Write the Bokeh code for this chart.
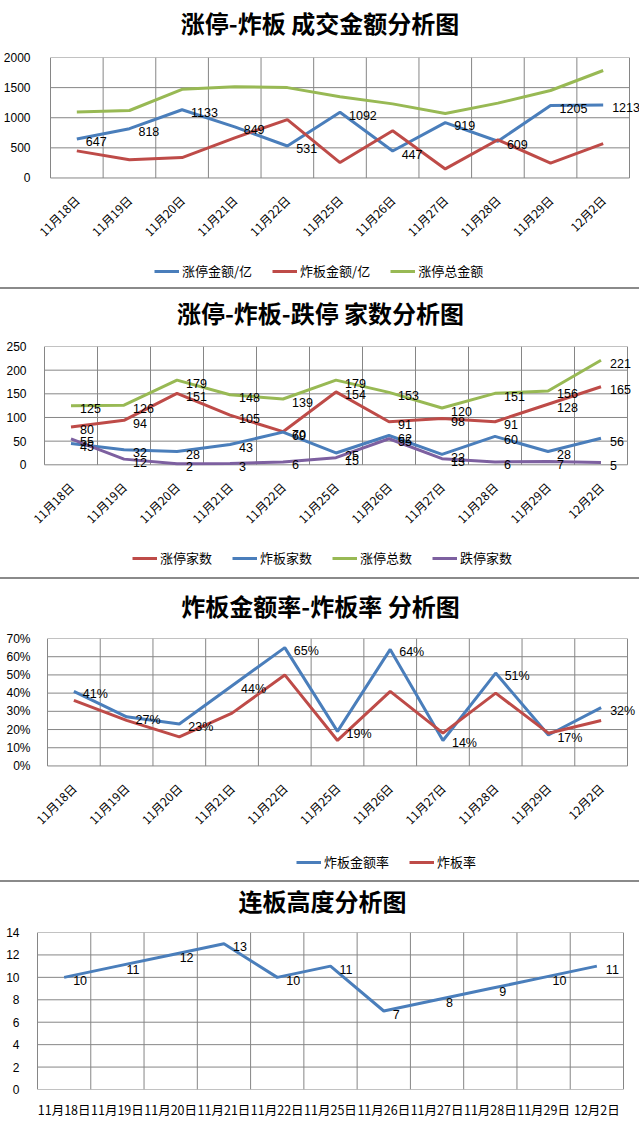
import math
from bokeh.plotting import figure
from bokeh.models import (ColumnDataSource, LabelSet, Label, Legend, LegendItem,
                          FixedTicker, Range1d, NumeralTickFormatter, Div)
from bokeh.layouts import column
from bokeh.embed import file_html
from bokeh.resources import INLINE
from bokeh.core.properties import value

# ---------------- data ----------------
dates = ["11月18日", "11月19日", "11月20日", "11月21日", "11月22日", "11月25日",
         "11月26日", "11月27日", "11月28日", "11月29日", "12月2日"]

# chart 1: amounts
amt_zt = [647, 818, 1133, 849, 531, 1092, 447, 919, 609, 1205, 1213]      # 涨停金额/亿
amt_zb = [450, 302, 338, 667, 969, 256, 783, 150, 634, 247, 571]          # 炸板金额/亿
amt_total = [1097, 1120, 1471, 1516, 1500, 1348, 1230, 1069, 1243, 1452, 1784]  # 涨停总金额

# chart 2: counts
cnt_zt = [80, 94, 151, 105, 70, 154, 91, 98, 91, 128, 165]     # 涨停家数
cnt_zb = [45, 32, 28, 43, 69, 25, 62, 22, 60, 28, 56]          # 炸板家数
cnt_total = [125, 126, 179, 148, 139, 179, 153, 120, 151, 156, 221]  # 涨停总数
cnt_dt = [55, 12, 2, 3, 6, 15, 55, 13, 6, 7, 5]                # 跌停家数

# chart 3: rates
rate_amt = [0.41, 0.27, 0.23, 0.44, 0.65, 0.19, 0.64, 0.14, 0.51, 0.17, 0.32]  # 炸板金额率
rate_zb = [0.36, 0.25, 0.16, 0.29, 0.50, 0.14, 0.41, 0.18, 0.40, 0.18, 0.25]   # 炸板率

# chart 4: 连板高度
lb_height = [10, 11, 12, 13, 10, 11, 7, 8, 9, 10, 11]

titles = ["涨停-炸板 成交金额分析图", "涨停-炸板-跌停 家数分析图",
          "炸板金额率-炸板率 分析图", "连板高度分析图"]

BLUE = "#4A7EBB"
RED = "#BE4B48"
GREEN = "#98B954"
PURPLE = "#7D60A0"
GRID = "#868686"
SEP = "#8a8a8a"
CJK = "Noto Sans CJK SC"
NUM = "Liberation Sans"
W = 639
LC = 36          # common left border of every figure (column aligns frames)
n = len(dates)
xs = list(range(n))


def make_main(top, bot, T, B, L, R, ymax, yticks, rotated=True, pct=False,
              ystand=0, xstand=6, ext=8):
    H = bot - top
    c = (R - L) / n
    x_start = -0.5 - (L - LC) / c
    x_end = n - 0.5 + (W - R) / c
    y_start = -ext * ymax / (B - T)
    p = figure(width=W, height=H, x_range=Range1d(x_start, x_end),
               y_range=Range1d(y_start, ymax), output_backend="svg",
               toolbar_location=None, tools="",
               min_border_left=LC, min_border_right=0,
               min_border_top=T - top, min_border_bottom=bot - (B + ext),
               outline_line_color=None,
               background_fill_color="white", border_fill_color="white")
    p.xgrid.visible = False
    p.ygrid.visible = False
    # grid / plot box, built from the tick values and category boundaries
    gx = [[-0.5, n - 0.5] for t in yticks] + [[i - 0.5, i - 0.5] for i in range(n + 1)]
    gy = [[t, t] for t in yticks] + [[0, ymax] for i in range(n + 1)]
    p.multi_line(gx, gy, line_color=GRID, line_width=1)

    p.xaxis.ticker = FixedTicker(ticks=xs)
    p.xaxis.major_label_overrides = {i: d for i, d in enumerate(dates)}
    p.xaxis.major_tick_line_color = None
    p.xaxis.minor_tick_line_color = None
    p.xaxis.axis_line_color = None
    p.xaxis.major_label_text_font = CJK
    p.xaxis.major_label_text_color = "#000000"
    p.xaxis.major_label_standoff = xstand
    if rotated:
        p.xaxis.major_label_orientation = math.pi / 4
        p.xaxis.major_label_text_font_size = "12px"
    else:
        p.xaxis.major_label_orientation = "horizontal"
        p.xaxis.major_label_text_font_size = "12.5px"
    p.yaxis.ticker = FixedTicker(ticks=yticks)
    p.yaxis.major_tick_line_color = None
    p.yaxis.minor_tick_line_color = None
    p.yaxis.axis_line_color = None
    p.yaxis.major_label_text_font = NUM
    p.yaxis.major_label_text_font_size = "12px"
    p.yaxis.major_label_text_color = "#000000"
    p.yaxis.major_label_standoff = ystand
    if pct:
        p.yaxis.formatter = NumeralTickFormatter(format="0%")
    return p


def add_line(p, vals, color):
    return p.line(xs, vals, line_color=color, line_width=3)


def add_labels(p, vals, texts):
    src = ColumnDataSource(dict(x=xs, y=vals, t=texts))
    p.add_layout(LabelSet(x="x", y="y", text="t", source=src, x_offset=9, y_offset=-3,
                          text_align="left", text_baseline="middle",
                          text_font=value(NUM), text_font_size="12.5px",
                          text_color="#000000"))


def blank(top, bot):
    H = bot - top
    p = figure(width=W, height=H, x_range=Range1d(LC, W), y_range=Range1d(H, 0),
               x_axis_type=None, y_axis_type=None,
               output_backend="svg", toolbar_location=None, tools="",
               min_border_left=LC, min_border_right=0,
               min_border_top=0, min_border_bottom=0,
               outline_line_color=None,
               background_fill_color="white", border_fill_color="white")
    return p


def title_fig(top, bot, text, cx, cy):
    p = blank(top, bot)
    p.add_layout(Label(x=cx, y=cy - top, text=text,
                       text_align="center", text_baseline="middle",
                       text_font=CJK, text_font_size="24px", text_font_style="bold",
                       text_color="#000000"))
    return p


def legend_fig(top, bot, entries, left, cy):
    p = blank(top, bot)
    H = bot - top
    items = []
    nan = float("nan")
    for name, color in entries:
        # legend-only renderer (a single NaN point draws nothing)
        r = p.line(x=[nan], y=[nan], line_color=color, line_width=3)
        items.append(LegendItem(label=name, renderers=[r]))
    leg = Legend(items=items, orientation="horizontal",
                 location=(left - LC, H - (cy - top) - 8),
                 glyph_width=25, glyph_height=16, label_height=16, label_standoff=3,
                 spacing=20, padding=0, margin=0, border_line_color=None,
                 background_fill_alpha=0, label_text_font=CJK,
                 label_text_font_size="13px", label_text_color="#000000")
    p.add_layout(leg)
    return p


def sep():
    return Div(text="", width=W, height=2, margin=(0, 0, 0, 0),
               styles={"background-color": SEP})


# ---------- panel 1 ----------
t1 = title_fig(0, 44, titles[0], 319.5, 22)
p1 = make_main(44, 248, 57, 185, 50, 629, 2000, [0, 500, 1000, 1500, 2000], ystand=0)
add_line(p1, amt_zt, BLUE)
add_line(p1, amt_zb, RED)
add_line(p1, amt_total, GREEN)
add_labels(p1, amt_zt, [str(v) for v in amt_zt])
l1 = legend_fig(248, 287, [("涨停金额/亿", BLUE), ("炸板金额/亿", RED), ("涨停总金额", GREEN)],
                154, 272)

# ---------- panel 2 ----------
t2 = title_fig(289, 335, titles[1], 320, 312)
p2 = make_main(335, 535, 346, 469, 44, 627, 250, [0, 50, 100, 150, 200, 250], ystand=4)
add_line(p2, cnt_zt, RED)
add_line(p2, cnt_zb, BLUE)
add_line(p2, cnt_total, GREEN)
add_line(p2, cnt_dt, PURPLE)
add_labels(p2, cnt_zt, [str(v) for v in cnt_zt])
add_labels(p2, cnt_zb, [str(v) for v in cnt_zb])
add_labels(p2, cnt_total, [str(v) for v in cnt_total])
add_labels(p2, cnt_dt, [str(v) for v in cnt_dt])
l2 = legend_fig(535, 577, [("涨停家数", RED), ("炸板家数", BLUE), ("涨停总数", GREEN), ("跌停家数", PURPLE)],
                132, 559)

# ---------- panel 3 ----------
t3 = title_fig(579, 628, titles[2], 320, 605)
p3 = make_main(628, 836, 638, 773, 47, 627, 0.7, [0, 0.1, 0.2, 0.3, 0.4, 0.5, 0.6, 0.7],
               pct=True, ystand=0)
add_line(p3, rate_amt, BLUE)
add_line(p3, rate_zb, RED)
add_labels(p3, rate_amt, ["%d%%" % round(v * 100) for v in rate_amt])
l3 = legend_fig(836, 880, [("炸板金额率", BLUE), ("炸板率", RED)], 296, 863)

# ---------- panel 4 ----------
t4 = title_fig(882, 922, titles[3], 322, 900)
p4 = make_main(922, 1126, 932, 1089, 37, 623, 14, [0, 2, 4, 6, 8, 10, 12, 14],
               rotated=False, ystand=11, xstand=4, ext=0)
add_line(p4, lb_height, BLUE)
add_labels(p4, lb_height, [str(v) for v in lb_height])

layout = column(t1, p1, l1, sep(), t2, p2, l2, sep(), t3, p3, l3, sep(), t4, p4, spacing=0)
open("out.html", "w").write(file_html(layout, INLINE))
